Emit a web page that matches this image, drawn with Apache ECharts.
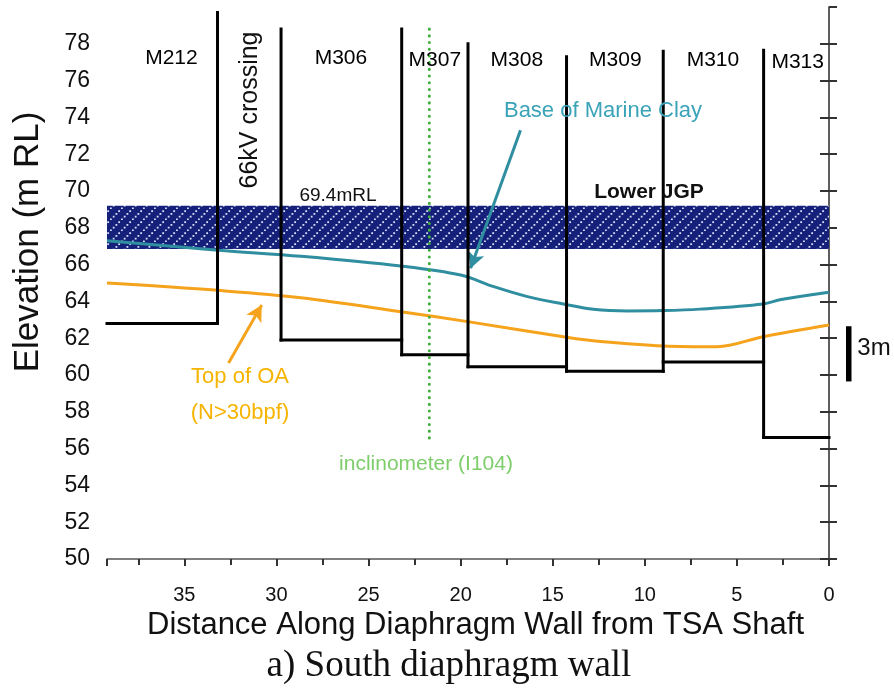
<!DOCTYPE html>
<html><head><meta charset="utf-8">
<script src="https://cdn.jsdelivr.net/npm/echarts@6/dist/echarts.min.js"></script>
<style>html,body{margin:0;padding:0;background:#fff}#c{width:894px;height:690px}</style>
</head><body><div id="c"></div>
<script>
// ---- data ----
const yTicks = [50,52,54,56,58,60,62,64,66,68,70,72,74,76,78];
const xTicks = [35,30,25,20,15,10,5,0];

const panelNames = ['M212','M306','M307','M308','M309','M310','M313'];
const panelFrom  = [39.2, 29.75, 23.2, 19.6, 14.25, 9.0, 3.55];
const panelTo    = [33.2, 23.2, 19.6, 14.25, 9.0, 3.55, 0];
const panelToe   = [62.8, 61.9, 61.1, 60.45, 60.2, 60.7, 56.6];
const panelLabelX = [35.7, 26.5, 21.4, 16.95, 11.6, 6.3, 1.7];
const panelLabelY = [77.2, 77.2, 77.1, 77.1, 77.1, 77.1, 77.0];

const jointX   = [33.2, 29.75, 23.2, 19.6, 14.25, 9.0, 3.55];
const jointTop = [79.7, 78.8, 78.8, 78.0, 77.3, 77.6, 77.65];
const jointBot = [62.8, 61.9, 61.1, 60.45, 60.2, 60.2, 56.6];

const clayX = [39.2, 33.17, 28.67, 23.25, 20.0, 18.2, 16.37, 14.42, 12.79, 10.95, 9.0, 7.0, 3.58, 2.6, 0];
const clayY = [67.3, 66.78, 66.45, 65.92, 65.43, 64.8, 64.26, 63.86, 63.57, 63.48, 63.5, 63.58, 63.86, 64.1, 64.5];

const oaX = [39.2, 33.17, 28.67, 23.25, 19.62, 14.25, 12.41, 9.0, 6.07, 3.58, 0];
const oaY = [65.0, 64.6, 64.2, 63.44, 62.9, 62.05, 61.82, 61.58, 61.54, 62.08, 62.72];

const jgp = [39.2, 0, 69.2, 66.85];           // x from, x to, top, bottom
const inclinometerX = 21.7, inclinometerTop = 78.8, inclinometerBot = 56.25;
const clayArrow = [[16.75, 73.3], [19.46, 65.8]];
const oaArrow = [[32.6, 60.65], [30.8, 63.8]];
const scaleBar = [59.65, 62.65];

// ---- build ----
const zip = (a, b) => a.map((v, i) => [v, b[i]]);
const segs = [];
jointX.forEach((x, i) => segs.push({coords: [[x, jointTop[i]], [x, jointBot[i]]]}));
panelFrom.forEach((x, i) => segs.push({coords: [[x, panelToe[i]], [panelTo[i], panelToe[i]]]}));

function makePattern() {
  const c = document.createElement('canvas');
  c.width = 11; c.height = 11;
  const g = c.getContext('2d');
  g.fillStyle = '#14207a'; g.fillRect(0, 0, 11, 11);
  g.fillStyle = 'rgba(225,232,255,0.95)';
  for (let i = 0; i < 11; i += 2.75) g.fillRect(i, 9.5 - i, 1.8, 1.8);
  return c;
}
const pattern = makePattern();
const F = '"Liberation Sans", Arial, sans-serif';

const chart = echarts.init(document.getElementById('c'));
const option = {
  animation: false,
  grid: {left: 107, right: 65, top: 7, bottom: 131},
  xAxis: {
    type: 'value', min: 0, max: 39.2, interval: 5, inverse: true,
    axisLine: {lineStyle: {color: '#555', width: 1.5}},
    axisTick: {inside: false, length: 7, lineStyle: {color: '#333', width: 2}},
    minorTick: {show: true, splitNumber: 2, length: 6, lineStyle: {color: '#333', width: 2}},
    splitLine: {show: false},
    axisLabel: {fontSize: 20, color: '#111', margin: 26, fontFamily: F, showMaxLabel: false,
      formatter: v => xTicks.includes(v) ? String(v) : ''},
    name: 'Distance Along Diaphragm Wall from TSA Shaft', nameLocation: 'middle', nameGap: 39,
    nameTextStyle: {fontSize: 31, color: '#111', fontFamily: F, padding: [0, 0, 0, 15]}
  },
  yAxis: [{
    type: 'value', min: 50, max: 80, interval: 2,
    axisLine: {show: true, lineStyle: {color: '#555', width: 1.5}},
    axisTick: {show: true, inside: false, length: 9, lineStyle: {color: '#333', width: 2}},
    splitLine: {show: false},
    axisLabel: {fontSize: 23, color: '#111', margin: 17, fontFamily: F, showMaxLabel: false,
      formatter: v => yTicks.includes(v) ? String(v) : ''}
  }, {
    type: 'value', min: 50, max: 80, interval: 2, position: 'right',
    axisLine: {show: true, lineStyle: {color: '#555', width: 1.5}},
    axisTick: {show: true, inside: false, length: 8, lineStyle: {color: '#333', width: 2}},
    splitLine: {show: false}, axisLabel: {show: false}
  }],
  series: [
    {
      type: 'line', name: 'Top of OA', data: zip(oaX, oaY), smooth: 0.35, symbol: 'none', z: 3,
      lineStyle: {color: '#f5a31c', width: 3},
      markLine: {silent: true, symbol: ['none', 'arrow'], symbolSize: [13, 16], label: {show: false},
        lineStyle: {color: '#f5a31c', width: 3, type: 'solid'},
        data: [[{coord: oaArrow[0]}, {coord: oaArrow[1]}]]}
    },
    {
      type: 'custom', name: 'Lower JGP', z: 4,
      data: [jgp], encode: {x: [0, 1], y: [2, 3]},
      renderItem: (params, api) => {
        const p1 = api.coord([api.value(0), api.value(2)]);
        const p2 = api.coord([api.value(1), api.value(3)]);
        return {type: 'rect', shape: {x: Math.min(p1[0], p2[0]), y: Math.min(p1[1], p2[1]),
          width: Math.abs(p2[0] - p1[0]), height: Math.abs(p2[1] - p1[1])},
          style: {fill: {image: pattern, repeat: 'repeat'}}};
      }
    },
    {
      type: 'line', name: 'Base of Marine Clay', data: zip(clayX, clayY), smooth: 0.35, symbol: 'none', z: 5,
      lineStyle: {color: '#2f8e9f', width: 3},
      markLine: {silent: true, symbol: ['none', 'arrow'], symbolSize: [13, 16], label: {show: false},
        lineStyle: {color: '#2f8e9f', width: 3, type: 'solid'},
        data: [[{coord: clayArrow[0]}, {coord: clayArrow[1]}]]}
    },
    {
      type: 'lines', name: 'Panels', coordinateSystem: 'cartesian2d', polyline: true, z: 6,
      lineStyle: {color: '#000', width: 3, opacity: 1, cap: 'square'}, data: segs
    },
    {
      type: 'line', name: 'inclinometer', z: 7, symbol: 'none',
      data: [[inclinometerX, inclinometerTop], [inclinometerX, inclinometerBot]],
      lineStyle: {color: '#3fae3c', width: 3, type: [0.1, 6.6], cap: 'round'}
    },
    {
      type: 'scatter', name: 'labels', symbolSize: 1, z: 8, silent: true,
      itemStyle: {opacity: 0},
      data: panelNames.map((n, i) => ({name: n, value: [panelLabelX[i], panelLabelY[i]]})),
      label: {show: true, position: 'inside', formatter: p => p.name, fontSize: 21, color: '#000',
        opacity: 1, textBorderWidth: 0, fontFamily: F}
    }
  ],
  graphic: []
};
chart.setOption(option);

const px = (x, y) => chart.convertToPixel({gridIndex: 0}, [x, y]);
const b1 = px(0, scaleBar[1]), b2 = px(0, scaleBar[0]);
const T = (text, x, y, size, color, extra) => Object.assign({type: 'text', x, y, z: 20,
  style: {text, x: 0, y: 0, fill: color, font: size + 'px ' + F, align: 'center', verticalAlign: 'middle'}}, extra || {});
const g = [
  T('Elevation (m RL)', 28, 242, 35, '#111', {rotation: Math.PI / 2}),
  T('66kV crossing', 250, 110, 25, '#111', {rotation: Math.PI / 2}),
  T('69.4mRL', 338, 196, 19, '#111'),
  {type: 'text', x: 649, y: 192, z: 20, style: {text: 'Lower JGP', x: 0, y: 0, fill: '#111',
    font: 'bold 21px ' + F, align: 'center', verticalAlign: 'middle'}},
  T('Base of Marine Clay', 603, 111, 22, '#3aa3b8'),
  T('inclinometer (I104)', 426, 464, 21, '#7dce6b'),
  T('Top of OA', 240, 377, 22, '#f6b400'),
  T('(N>30bpf)', 240, 413, 22, '#f6b400'),
  T('3m', 874, 348, 24, '#111'),
  {type: 'rect', z: 20, shape: {x: b1[0] + 17, y: b1[1], width: 5.5, height: b2[1] - b1[1]}, style: {fill: '#000'}},
  {type: 'text', x: 449, y: 666, z: 20, style: {text: 'a) South diaphragm wall', x: 0, y: 0, fill: '#111',
    font: '37px "Liberation Serif", "Times New Roman", serif', align: 'center', verticalAlign: 'middle'}}
];
chart.setOption({graphic: g});
</script></body></html>
